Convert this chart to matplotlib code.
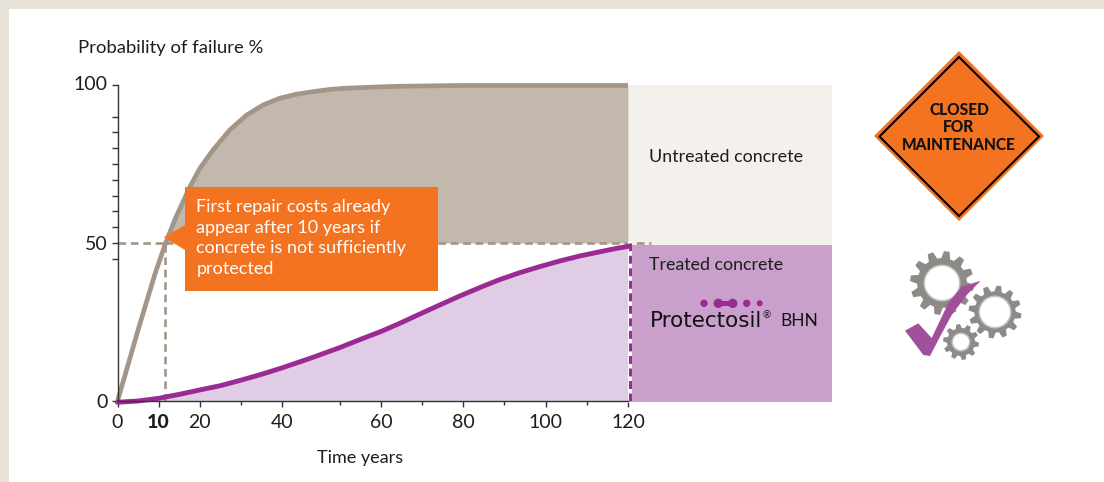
"""
plot.py

Probability of failure over time, untreated vs treated concrete.
Time axis of the original is not quite linear (40 to 50 is stretched),
so it goes through a small function scale.
"""

import numpy as np
import matplotlib
matplotlib.use("Agg")
import matplotlib.pyplot as plt
from matplotlib.patches import Polygon, Rectangle, Circle
from matplotlib.transforms import ScaledTranslation

W, H = 1104, 482

untreated_years = [0, 2.55, 5, 7.2, 9.1, 11.7, 14.2, 15.9, 17.6, 20, 23.25, 27.3, 31.4,
                   35.4, 39.4, 42.5, 45.4, 48.3, 51.6, 59.7, 64.6, 79.1, 100, 120]
untreated_pct = [0, 11.4, 22.5, 32, 40.2, 50, 58.2, 63, 67.8, 73.6, 79.5, 85.8, 90.5,
                 93.7, 95.8, 97.1, 97.9, 98.6, 99, 99.4, 99.6, 99.84, 99.84, 99.84]

treated_years = [0, 5, 10, 15, 20, 25, 30, 35, 40, 45, 50, 55, 60, 64.6, 69.4, 74.3,
                 79.1, 84, 88.8, 93.7, 98.5, 103.4, 108.3, 113.1, 117.2, 120.4]
treated_pct = [-0.4, 0, 0.85, 2.1, 3.5, 4.85, 6.6, 8.45, 10.5, 13.6, 16.9, 19.5, 22,
               24.6, 27.5, 30.4, 33.2, 35.9, 38.4, 40.6, 42.5, 44.3, 45.9, 47.2, 48.3, 49]

x_major = [0, 10, 20, 40, 60, 80, 100, 120]
x_labels = ["0", "10", "20", "40", "60", "80", "100", "120"]
x_minor = [30, 50, 70, 90, 110]
y_major = [0, 50, 100]
y_minor = [45, 55, 60, 65, 70, 75, 80, 85, 90]

threshold_pct = 50
threshold_year = 11.6
end_year = 120
dash_end_year = 120.5
threshold_end_year = 125.7

callout_lines = ("First repair costs already\nappear after 10 years if\n"
                 "concrete is not sufficiently\nprotected")
sign_lines = "CLOSED\nFOR\nMAINTENANCE"

FONT = "Lato"
INK = "#1d1d1b"
ORANGE = "#f47321"
TAUPE = "#a39688"
TAUPE_FILL = "#c2b8ac"
PURPLE = "#9b2a94"
PURPLE_FILL = "#e0cde5"
PURPLE_BOX = "#c8a0cb"
CREAM_BOX = "#f4f1ec"
FRAME = "#e8e1d7"
GEAR = "#8c8b88"

plt.rcParams["font.family"] = [FONT, "DejaVu Sans"]


def forward(t):
    return np.interp(t, [0, 40, 50, 140], [0, 40, 54, 144])


def inverse(p):
    return np.interp(p, [0, 40, 54, 144], [0, 40, 50, 140])


def draw_gear(ax, cx, cy, outer, hole, teeth):
    # icon only, same trapezoid tooth for all three gears
    pitch = 2 * np.pi / teeth
    centres = np.arange(teeth) * pitch + 0.15
    angles = np.concatenate([c + np.array([-0.34, -0.17, 0.17, 0.34]) * pitch for c in centres])
    radii = np.tile([outer * 0.78, outer, outer, outer * 0.78], teeth)
    pts = np.column_stack([cx + radii * np.cos(angles), cy + radii * np.sin(angles)])
    ax.add_patch(Polygon(pts, closed=True, fc=GEAR, ec="none"))
    ax.add_patch(Circle((cx, cy), hole + 1.5, fc="#c4c2c0", ec="none"))
    ax.add_patch(Circle((cx, cy), hole, fc="white", ec="none"))


fig = plt.figure(figsize=(W / 100, H / 100), dpi=100, facecolor="white")

# page furniture and labels are placed in pixels on a full-figure layer
bg = fig.add_axes([0, 0, 1, 1], zorder=0)
bg.set_xlim(0, W)
bg.set_ylim(H, 0)
bg.axis("off")
bg.add_patch(Rectangle((0, 0), W, 9, fc=FRAME, ec="none"))
bg.add_patch(Rectangle((0, 0), 9, H, fc=FRAME, ec="none"))
bg.add_patch(Rectangle((629, 84.5), 203, 160.5, fc=CREAM_BOX, ec="none"))
bg.add_patch(Rectangle((631, 245), 201, 156.5, fc=PURPLE_BOX, ec="none"))

ax = fig.add_axes([117.5 / W, 1 - 401 / H, (628 - 117.5) / W, (401 - 85) / H], zorder=1)
ax.patch.set_alpha(0)
ax.set_xscale("function", functions=(forward, inverse))
ax.set_xlim(0, 120)
ax.set_ylim(0, 100)

fine_years = np.linspace(0, end_year, 600)
fine_untreated = np.interp(fine_years, untreated_years, untreated_pct)
ax.fill_between(fine_years, threshold_pct, fine_untreated,
                where=fine_untreated >= threshold_pct, color=TAUPE_FILL, lw=0)
ax.fill_between(treated_years, 0, treated_pct, color=PURPLE_FILL, lw=0, clip_on=False)
ax.plot(untreated_years, untreated_pct, color=TAUPE, lw=3.4, clip_on=False,
        solid_capstyle="butt")
ax.plot([0, threshold_year], [threshold_pct, threshold_pct], color=TAUPE, lw=1.9,
        dashes=(2.9, 1.8))
ax.plot([threshold_year, threshold_end_year], [threshold_pct, threshold_pct], color=TAUPE,
        lw=1.9, dashes=(2.9, 1.8), clip_on=False)
ax.plot([threshold_year, threshold_year], [0, threshold_pct], color=TAUPE, lw=1.9,
        dashes=(2.9, 1.8))
ax.plot([dash_end_year, dash_end_year], [0, threshold_pct], color="white", lw=2.8,
        clip_on=False)
ax.plot([dash_end_year, dash_end_year], [0, threshold_pct], color=PURPLE, lw=2.2,
        dashes=(2.6, 1.5), clip_on=False)
ax.plot(treated_years, treated_pct, color=PURPLE, lw=3.5, clip_on=False,
        solid_capstyle="round")

for side in ("top", "right"):
    ax.spines[side].set_visible(False)
for side in ("left", "bottom"):
    ax.spines[side].set_color("#333333")
    ax.spines[side].set_linewidth(1.0)
ax.set_xticks(x_major)
ax.set_xticklabels(x_labels, fontsize=14, color=INK)
ax.get_xticklabels()[1].set_fontweight("black")
ax.set_xticks(x_minor, minor=True)
ax.set_yticks(y_major)
ax.set_yticks(y_minor, minor=True)
ax.tick_params(axis="both", which="major", length=4, width=1, color="#333333",
               labelsize=14, labelcolor=INK)
ax.tick_params(axis="x", which="major", pad=5)
ax.tick_params(axis="y", which="major", pad=3)
ax.tick_params(axis="x", which="minor", length=3, width=1, color="#333333")
ax.tick_params(axis="y", which="minor", length=4, width=1, color="#333333")
# the 100 label sits a little above its tick in the original
top_label = ax.get_yticklabels()[2]
top_label.set_transform(top_label.get_transform()
                        + ScaledTranslation(0, 2 / 100, fig.dpi_scale_trans))

# callout
over = fig.add_axes([0, 0, 1, 1], zorder=2)
over.set_xlim(0, W)
over.set_ylim(H, 0)
over.axis("off")
over.add_patch(Rectangle((185, 187), 253, 104, fc=ORANGE, ec="none"))
over.add_patch(Polygon([(164, 237), (185, 225), (185, 250)], closed=True, fc=ORANGE, ec="none"))
over.text(196.5, 238, callout_lines, color="white", fontsize=13, va="center",
          ha="left", linespacing=1.35)

over.text(78, 47.5, "Probability of failure %", color=INK, fontsize=13.3, va="center")
over.text(360, 458, "Time years", color=INK, fontsize=13, va="center", ha="center")
over.text(649, 157.5, "Untreated concrete", color=INK, fontsize=12.9, va="center")
over.text(649, 265, "Treated concrete", color=INK, fontsize=12.8, va="center")

# Protectosil mark
for dx, r in [(704, 3.7), (718.3, 4.7), (732.7, 4.7), (746.7, 3.7), (759.7, 3)]:
    over.add_patch(Circle((dx, 303.3), r, fc=PURPLE, ec="none"))
over.add_patch(Rectangle((718, 300.5), 14.5, 5.6, fc=PURPLE, ec="none"))
over.text(650, 321, "Protectosil", color="#111111", fontsize=15.5, va="center",
          family=["DejaVu Sans"])
over.text(767, 316, "\u00ae", color="#111111", fontsize=7, va="center", ha="center")
over.text(780, 321, "BHN", color="#111111", fontsize=12.5, va="center")

# road sign
over.add_patch(Polygon([(874, 136), (959, 51), (1044, 136), (959, 221)], closed=True,
                       fc=ORANGE, ec="none"))
over.add_patch(Polygon([(879.5, 136.5), (959, 57), (1039, 136.5), (959, 216)], closed=True,
                       fc="none", ec="black", lw=1.5))
over.text(959, 127.5, sign_lines, color="#111111", fontsize=11.2, fontweight="black",
          ha="center", va="center", linespacing=1.08)

# gears and tick mark icon
draw_gear(over, 942, 283, 32, 17, 12)
draw_gear(over, 995, 312, 26.5, 15, 12)
draw_gear(over, 961, 342, 18, 8, 10)
over.add_patch(Polygon([(905, 330.7), (918.3, 323.3), (931.7, 338), (948.3, 303),
                        (961.7, 286.7), (980.7, 280.7), (966.7, 295), (951.7, 315),
                        (940, 336.7), (930, 356), (923.3, 355)],
                       closed=True, fc="#a0509b", ec="none"))

fig.savefig("out.png", dpi=100)
